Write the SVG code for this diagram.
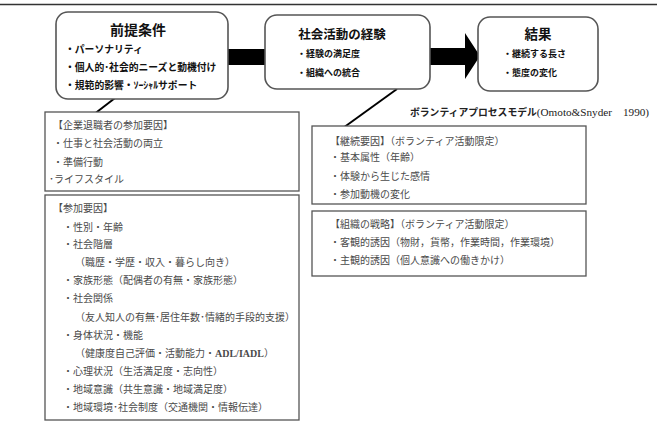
<svg xmlns="http://www.w3.org/2000/svg" width="657" height="422" viewBox="0 0 657 422">
<style>
.rbox{fill:#fff;stroke:#555;stroke-width:1.6}
.sbox{fill:#fff;stroke:#555;stroke-width:1.3}
.title{font-family:"Noto Sans CJK JP","Noto Sans",sans-serif;font-weight:bold;fill:#111}
.item{font-family:"Noto Sans CJK JP","Noto Sans",sans-serif;font-weight:bold;fill:#111}
.body{font-family:"Noto Sans CJK JP","Noto Sans",sans-serif;font-size:10px;fill:#4a4a4a}
.lat{font-family:"Liberation Serif",serif}
.conn{stroke:#000;stroke-width:2;fill:none}
</style>
<line x1="0" y1="4.5" x2="657" y2="4.5" stroke="#333" stroke-width="1.5"/>

<g id="connectors">
  <rect x="227" y="49" width="39" height="16" fill="#000"/>
  <path d="M429,48 H465 V33 L480,56 L465,79 V65 H429 Z" fill="#000"/>
  <line class="conn" x1="128" y1="88" x2="93" y2="115"/>
  <line class="conn" x1="397" y1="89" x2="343" y2="128"/>
</g>

<g id="node-zentei">
  <rect class="rbox" x="56" y="12" width="172" height="87" rx="12"/>
  <text class="title" x="138" y="35" font-size="14" text-anchor="middle">前提条件</text>
  <text class="item" x="65" y="53" font-size="9.8">・パーソナリティ</text>
  <text class="item" x="65" y="71" font-size="9.8">・個人的･社会的ニーズと動機付け</text>
  <text class="item" x="65" y="88.5" font-size="9.8">・規範的影響・ｿｰｼｬﾙサポート</text>
</g>

<g id="node-keiken">
  <rect class="rbox" x="265" y="15" width="165" height="74" rx="12"/>
  <text class="title" x="342" y="38.5" font-size="12.5" text-anchor="middle">社会活動の経験</text>
  <text class="item" x="297" y="56.5" font-size="9">・経験の満足度</text>
  <text class="item" x="297" y="75.5" font-size="9">・組織への統合</text>
</g>

<g id="node-kekka">
  <rect class="rbox" x="478" y="17" width="120" height="74" rx="12"/>
  <text class="title" x="538" y="39" font-size="13.5" text-anchor="middle">結果</text>
  <text class="item" x="503" y="56.5" font-size="9">・継続する長さ</text>
  <text class="item" x="503" y="75.5" font-size="9">・態度の変化</text>
</g>

<text x="410" y="115.5" font-size="9.8" font-weight="bold" fill="#222" font-family="'Noto Sans CJK JP',sans-serif">ボランティアプロセスモデル<tspan class="lat" font-weight="normal" font-size="11.2">(Omoto&amp;Snyder　1990)</tspan></text>

<g id="node-taishoku">
  <rect class="sbox" x="45" y="112" width="254" height="79"/>
  <text class="body" x="53" y="128.5">【企業退職者の参加要因】</text>
  <text class="body" x="53" y="146.5">・仕事と社会活動の両立</text>
  <text class="body" x="53" y="165.5">・準備行動</text>
  <text class="body" x="49" y="182.5">･ライフスタイル</text>
</g>

<g id="node-sanka">
  <rect class="sbox" x="45" y="195" width="254" height="225"/>
  <text class="body" x="53" y="211.5">【参加要因】</text>
  <text class="body" x="63" y="230.5">・性別・年齢</text>
  <text class="body" x="63" y="247.5">・社会階層</text>
  <text class="body" x="75" y="265.5">（職歴・学歴・収入・暮らし向き）</text>
  <text class="body" x="63" y="283.5">・家族形態（配偶者の有無・家族形態）</text>
  <text class="body" x="63" y="301.5">・社会関係</text>
  <text class="body" x="75" y="320.5">（友人知人の有無･居住年数･情緒的手段的支援）</text>
  <text class="body" x="63" y="338.5">・身体状況・機能</text>
  <text class="body" x="75" y="356.5">（健康度自己評価・活動能力・<tspan class="lat" font-weight="bold">ADL/IADL</tspan>）</text>
  <text class="body" x="63" y="374.5">・心理状況（生活満足度・志向性）</text>
  <text class="body" x="63" y="392.5">・地域意識（共生意識・地域満足度）</text>
  <text class="body" x="63" y="410.5">・地域環境･社会制度（交通機関・情報伝達）</text>
</g>

<g id="node-keizoku">
  <rect class="sbox" x="312" y="126" width="274" height="78"/>
  <text class="body" x="330" y="144.5">【継続要因】（ボランティア活動限定）</text>
  <text class="body" x="330" y="160.5">・基本属性（年齢）</text>
  <text class="body" x="330" y="179.5">・体験から生じた感情</text>
  <text class="body" x="330" y="197.5">・参加動機の変化</text>
</g>

<g id="node-senryaku">
  <rect class="sbox" x="312" y="211" width="274" height="65"/>
  <text class="body" x="330" y="227.5">【組織の戦略】（ボランティア活動限定）</text>
  <text class="body" x="330" y="245.5">・客観的誘因（物財，貨幣，作業時間，作業環境）</text>
  <text class="body" x="330" y="263.5">・主観的誘因（個人意識への働きかけ）</text>
</g>
</svg>
